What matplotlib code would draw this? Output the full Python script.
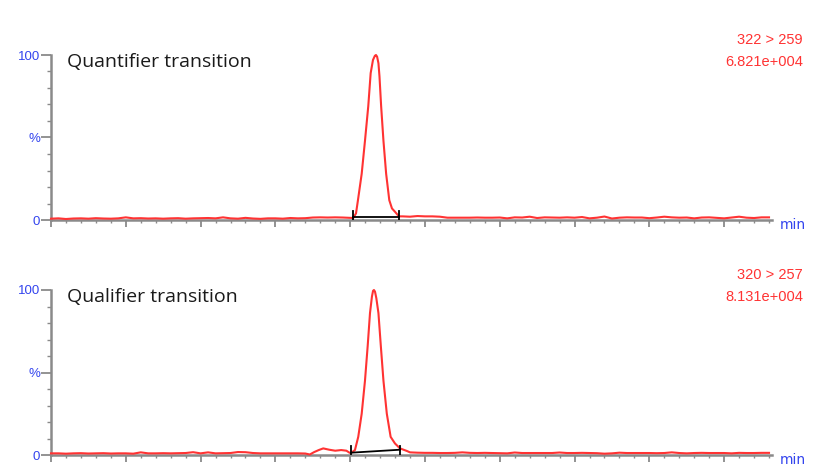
import numpy as np
import matplotlib
matplotlib.use('Agg')
import matplotlib.pyplot as plt

# retention time grid for the baseline (min) and the two traces (% of max)
base_t = np.round(np.arange(0, 9.65, 0.1), 2)

base_quant = [0.8, 1.0, 0.6, 0.9, 1.0, 0.8, 1.1, 0.9, 0.8, 1.0,
              1.6, 1.0, 1.1, 0.9, 1.0, 0.8, 1.0, 1.1, 0.8, 1.0,
              1.1, 1.2, 1.0, 1.6, 1.0, 0.8, 1.3, 0.9, 0.7, 1.0,
              1.0, 0.8, 1.2, 1.0, 1.1, 1.5, 1.6, 1.5, 1.6, 1.5,
              1.3, 1.5, 1.5, 1.5, 1.5, 1.5, 1.5, 2.2, 2.0, 2.4,
              2.2, 2.2, 2.0, 1.4, 1.4, 1.4, 1.4, 1.5, 1.4, 1.4,
              1.5, 1.0, 1.6, 1.5, 2.0, 1.2, 1.6, 1.5, 1.4, 1.6,
              1.4, 1.8, 1.0, 1.4, 2.1, 0.9, 1.4, 1.6, 1.5, 1.5,
              1.1, 1.5, 2.0, 1.6, 1.4, 1.5, 1.0, 1.5, 1.6, 1.3,
              1.0, 1.5, 2.0, 1.4, 1.2, 1.6, 1.6]

base_qual = [1.0, 1.0, 0.8, 1.0, 1.1, 0.9, 1.0, 1.1, 0.9, 1.0,
             1.0, 0.8, 1.6, 1.0, 1.0, 1.1, 1.0, 1.1, 1.2, 1.7,
             1.0, 1.6, 1.0, 1.1, 1.2, 1.8, 1.7, 1.2, 1.0, 1.0,
             1.0, 1.0, 1.0, 1.0, 0.9, 0.4, 3.0, 2.6, 2.8, 2.5,
             1.2, 1.5, 1.5, 1.5, 1.5, 1.5, 1.5, 2.2, 1.6, 1.4,
             1.3, 1.3, 1.2, 1.2, 1.3, 1.6, 1.3, 1.2, 1.3, 1.2,
             1.1, 1.0, 1.5, 1.2, 1.2, 1.2, 1.2, 1.2, 1.5, 1.2,
             1.2, 1.3, 1.2, 1.1, 0.8, 1.0, 1.4, 1.2, 1.2, 1.2,
             1.2, 1.1, 1.2, 1.6, 1.2, 1.0, 1.2, 1.3, 1.2, 1.2,
             1.2, 1.0, 1.3, 1.2, 1.2, 1.3, 1.3]

peak_t_quant = [4.04, 4.078, 4.104, 4.154, 4.198, 4.242, 4.274, 4.305, 4.330, 4.345,
                4.360, 4.378, 4.392, 4.414, 4.445, 4.481, 4.523, 4.559, 4.599, 4.652]
peak_quant = [1.2, 4, 12, 28, 48, 69, 89, 97, 99.5, 100,
              99, 95, 87, 69, 48, 28, 12, 7, 5, 2.2]

peak_t_qual = [3.46, 3.52, 3.58, 3.64, 3.72, 3.80, 3.88, 3.95, 3.99, 4.01,
               4.064, 4.108, 4.154, 4.198, 4.234, 4.265, 4.291, 4.306, 4.318, 4.332,
               4.350, 4.378, 4.410, 4.445, 4.490, 4.541, 4.599, 4.666, 4.755]
peak_qual = [0.3, 1.8, 3.0, 4.0, 3.2, 2.6, 3.0, 2.6, 1.4, 1.2,
             3, 11, 25, 45, 66, 86, 96, 99.5, 100, 99,
             95, 86, 66, 45, 25, 11, 7, 4, 2.5]

# integration limits (start, end) in min and baseline level in %
integ_quant = [(4.037, 2.0), (4.652, 2.0)]
integ_qual = [(4.01, 1.4), (4.666, 3.2)]

panels = [
    ('Quantifier transition', '322 > 259', '6.821e+004',
     base_quant, peak_t_quant, peak_quant, integ_quant),
    ('Qualifier transition', '320 > 257', '8.131e+004',
     base_qual, peak_t_qual, peak_qual, integ_qual),
]

W, H = 825, 473
fig = plt.figure(figsize=(W / 100, H / 100), dpi=100)
boxes = [[51 / W, 253 / H, 721 / W, 165 / H],
         [51 / W, 18 / H, 721 / W, 165 / H]]

red = '#ff3333'
blue = '#3344ee'
gray = '#8a8a8a'

for box, (name, trans, inten, base, pt, pv, integ) in zip(boxes, panels):
    ax = fig.add_axes(box)
    base = np.asarray(base)
    keep = (base_t < pt[0] - 0.01) | (base_t > pt[-1] + 0.01)
    t = np.concatenate([base_t[keep], pt])
    v = np.concatenate([base[keep], pv])
    order = np.argsort(t)
    ax.plot(t[order], v[order], color=red, lw=1.5, clip_on=False, zorder=3)

    (t0, y0), (t1, y1) = integ
    ax.plot([t0, t1], [y0, y1], color='black', lw=1.3, zorder=4)
    ax.plot([t0, t0], [-0.5, 5.5], color='black', lw=1.3, zorder=4)
    ax.plot([t1, t1], [-0.5, 5.5], color='black', lw=1.3, zorder=4)

    ax.set_xlim(0, 9.64)
    ax.set_ylim(0, 100)
    for s in ['top', 'right']:
        ax.spines[s].set_visible(False)
    for s in ['left', 'bottom']:
        ax.spines[s].set_color(gray)
        ax.spines[s].set_linewidth(1.8)

    ax.set_xticks(np.arange(0, 10, 1.0))
    ax.set_xticks(np.arange(0, 9.65, 0.2), minor=True)
    ax.set_xticklabels([])
    ax.set_yticks([0, 50, 100])
    ax.set_yticks(np.arange(10, 100, 10), minor=True)
    ax.set_yticklabels(['0', '%', '100'], color=blue, fontsize=9.5,
                       family='Liberation Sans')
    ax.tick_params(axis='x', which='major', length=5, width=1.3, color=gray, direction='out')
    ax.tick_params(axis='x', which='minor', length=2.5, width=1, color=gray, direction='out')
    ax.tick_params(axis='y', which='major', length=7, width=1.3, color=gray, pad=1)
    ax.tick_params(axis='y', which='minor', length=3, width=1, color=gray)

    ax.text(1.011, -0.03, 'min', transform=ax.transAxes, color=blue,
            fontsize=10, va='center', ha='left', family='DejaVu Sans')
    ax.text(0.022, 0.957, name, transform=ax.transAxes, fontsize=14,
            va='center', ha='left', color='#1a1a1a', family='Open Sans')
    ax.text(1.043, 1.09, trans, transform=ax.transAxes, color=red,
            fontsize=10.5, ha='right', va='center', family='Liberation Sans')
    ax.text(1.043, 0.96, inten, transform=ax.transAxes, color=red,
            fontsize=10.5, ha='right', va='center', family='Liberation Sans')

fig.savefig('out.png', dpi=100)
